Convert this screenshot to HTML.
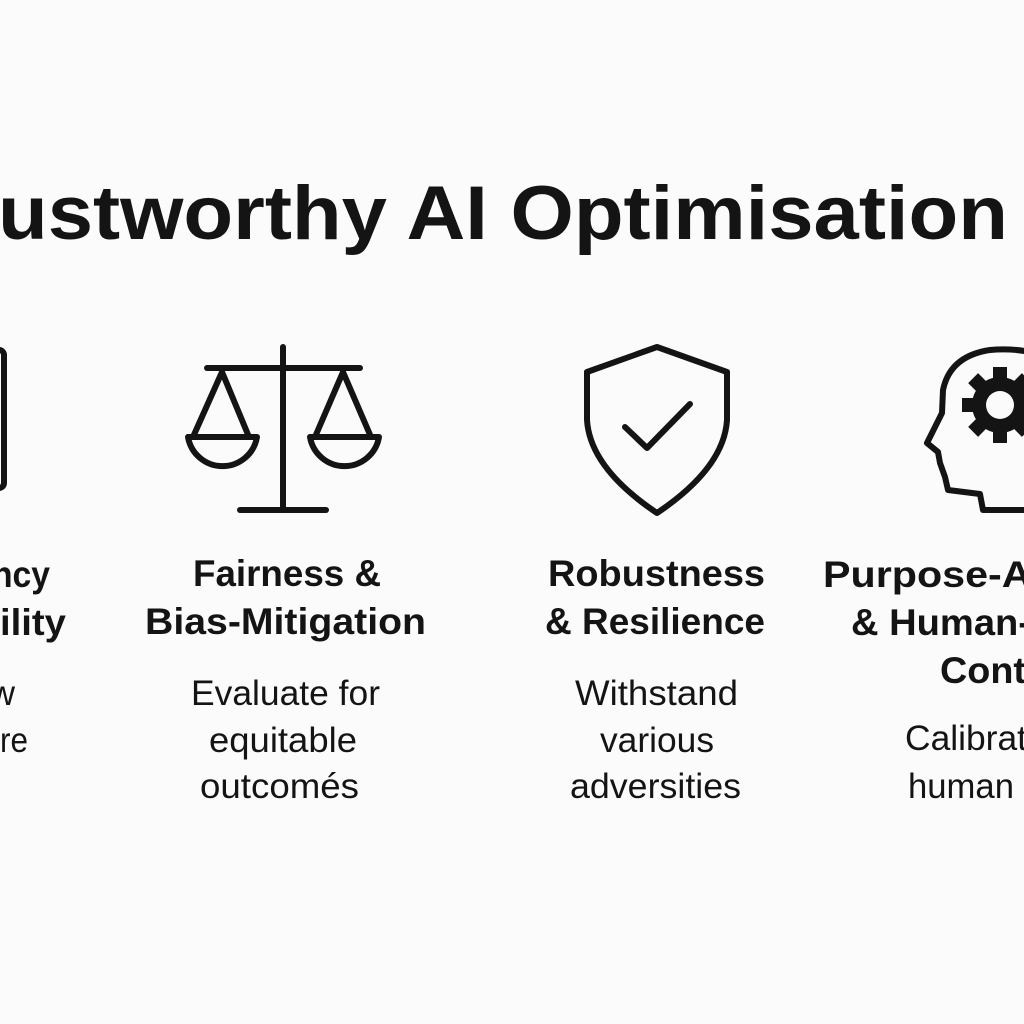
<!DOCTYPE html>
<html><head><meta charset="utf-8"><style>
html,body{margin:0;padding:0;background:#fbfbfb;}
svg{display:block}
text{font-family:"Liberation Sans",sans-serif;fill:#141414}
.h{font-weight:bold;font-size:37px}
.b{font-size:35px}
</style></head><body>
<svg width="1024" height="1024" viewBox="0 0 1024 1024" xmlns="http://www.w3.org/2000/svg">
<rect width="1024" height="1024" fill="#fbfbfb"/>
<text x="-2" y="239" font-size="76" font-weight="bold" textLength="1010" lengthAdjust="spacingAndGlyphs">ustworthy AI Optimisation</text>

<g fill="none" stroke="#141414" stroke-width="6" stroke-linecap="round" stroke-linejoin="round">
<!-- left partial icon -->
<rect x="-30" y="350" width="34" height="138" rx="5"/>
<!-- scale -->
<line x1="283" y1="347" x2="283" y2="510"/>
<line x1="207" y1="368" x2="360" y2="368"/>
<line x1="240" y1="510" x2="326" y2="510"/>
<path d="M193 437 L222 372 L249 437"/>
<path d="M188 437 L257 437 A35 35 0 0 1 188 437 Z"/>
<path d="M315 437 L343 372 L371 437"/>
<path d="M310 437 L379 437 A35 35 0 0 1 310 437 Z"/>
<!-- shield -->
<path d="M657 347 L587 372 L587 420 Q590 468 657 513 Q724 468 727 420 L727 372 Z"/>
<path d="M625 427 L647 448 L690 404"/>
<!-- head -->
<path d="M1030 352 Q1010 348 990 350 Q950 356 943 390 L942 413 L927 443 L938 452 L940 463 L945 477 L948 490 L980 494 L983 510 L1030 510"/>
</g>
<!-- gear -->
<g transform="translate(1000,405)" fill="#141414">
<circle r="28"/>
<g>
<rect x="-7" y="-38" width="14" height="14"/>
<rect x="-7" y="-38" width="14" height="14" transform="rotate(45)"/>
<rect x="-7" y="-38" width="14" height="14" transform="rotate(90)"/>
<rect x="-7" y="-38" width="14" height="14" transform="rotate(135)"/>
<rect x="-7" y="-38" width="14" height="14" transform="rotate(180)"/>
<rect x="-7" y="-38" width="14" height="14" transform="rotate(225)"/>
<rect x="-7" y="-38" width="14" height="14" transform="rotate(270)"/>
<rect x="-7" y="-38" width="14" height="14" transform="rotate(315)"/>
</g>
<circle r="14" fill="#fbfbfb"/>
</g>

<!-- left column fragments -->
<text class="h" x="-8" y="587" textLength="58" lengthAdjust="spacingAndGlyphs">ncy</text>
<text class="h" x="0" y="635" textLength="66" lengthAdjust="spacingAndGlyphs">ility</text>
<text class="b" x="-10" y="705" textLength="25" lengthAdjust="spacingAndGlyphs">w</text>
<text class="b" x="0" y="752" textLength="28" lengthAdjust="spacingAndGlyphs">re</text>

<!-- Fairness -->
<text class="h" x="193" y="586" textLength="188" lengthAdjust="spacingAndGlyphs">Fairness &amp;</text>
<text class="h" x="145" y="634" textLength="281" lengthAdjust="spacingAndGlyphs">Bias-Mitigation</text>
<text class="b" x="191" y="705" textLength="189" lengthAdjust="spacingAndGlyphs">Evaluate for</text>
<text class="b" x="209" y="752" textLength="148" lengthAdjust="spacingAndGlyphs">equitable</text>
<text class="b" x="200" y="798" textLength="159" lengthAdjust="spacingAndGlyphs">outcomés</text>

<!-- Robustness -->
<text class="h" x="548" y="586" textLength="217" lengthAdjust="spacingAndGlyphs">Robustness</text>
<text class="h" x="545" y="634" textLength="220" lengthAdjust="spacingAndGlyphs">&amp; Resilience</text>
<text class="b" x="575" y="705" textLength="163" lengthAdjust="spacingAndGlyphs">Withstand</text>
<text class="b" x="600" y="752" textLength="114" lengthAdjust="spacingAndGlyphs">various</text>
<text class="b" x="570" y="798" textLength="171" lengthAdjust="spacingAndGlyphs">adversities</text>

<!-- Purpose -->
<text class="h" x="823" y="587" textLength="220" lengthAdjust="spacingAndGlyphs">Purpose-Al</text>
<text class="h" x="851" y="635" textLength="180" lengthAdjust="spacingAndGlyphs">&amp; Human-</text>
<text class="h" x="940" y="683" textLength="86" lengthAdjust="spacingAndGlyphs">Cont</text>
<text class="b" x="905" y="750" textLength="122" lengthAdjust="spacingAndGlyphs">Calibrat</text>
<text class="b" x="908" y="798" textLength="106" lengthAdjust="spacingAndGlyphs">human</text>
</svg>
</body></html>
